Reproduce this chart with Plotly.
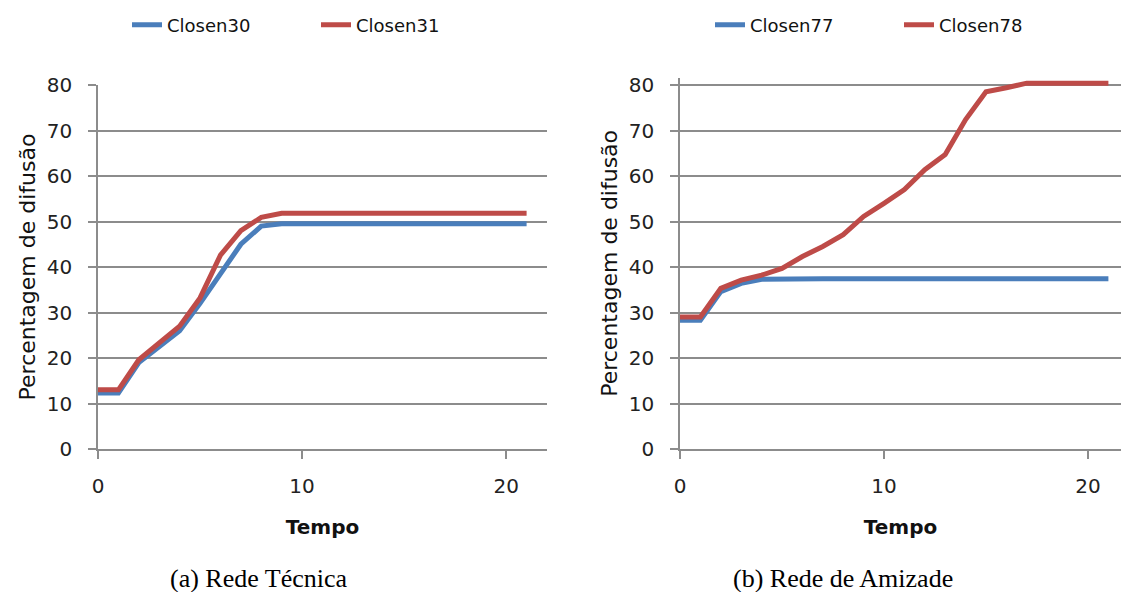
import plotly.graph_objects as go
from plotly.subplots import make_subplots

tempo = list(range(22))
closen30 = [12.3, 12.3, 19.0, 22.5, 26.0, 32.0, 38.5, 45.0, 49.0, 49.5, 49.5, 49.5, 49.5, 49.5, 49.5, 49.5, 49.5, 49.5, 49.5, 49.5, 49.5, 49.5]
closen31 = [13.0, 13.0, 19.6, 23.2, 27.0, 33.2, 42.6, 48.0, 50.9, 51.8, 51.8, 51.8, 51.8, 51.8, 51.8, 51.8, 51.8, 51.8, 51.8, 51.8, 51.8, 51.8]
closen77 = [28.3, 28.3, 34.6, 36.4, 37.3, 37.4, 37.4, 37.4, 37.4, 37.4, 37.4, 37.4, 37.4, 37.4, 37.4, 37.4, 37.4, 37.4, 37.4, 37.4, 37.4, 37.4]
closen78 = [29.0, 29.0, 35.3, 37.1, 38.2, 39.7, 42.3, 44.5, 47.1, 51.1, 54.0, 57.0, 61.4, 64.7, 72.4, 78.5, 79.4, 80.4, 80.4, 80.4, 80.4, 80.4]

x_ticks = [0, 10, 20]
y_ticks = [0, 10, 20, 30, 40, 50, 60, 70, 80]
captions = ["(a) Rede Técnica", "(b) Rede de Amizade"]

BLUE = "#4A7EBB"
RED = "#BE4B48"
GRID = "#8C8C8C"
W, H = 1121, 592

fig = make_subplots(rows=1, cols=2)

fig.add_trace(go.Scatter(x=tempo, y=closen30, name="Closen30", mode="lines",
                         line=dict(color=BLUE, width=5), legend="legend"), 1, 1)
fig.add_trace(go.Scatter(x=tempo, y=closen31, name="Closen31", mode="lines",
                         line=dict(color=RED, width=5), legend="legend"), 1, 1)
fig.add_trace(go.Scatter(x=tempo, y=closen77, name="Closen77", mode="lines",
                         line=dict(color=BLUE, width=5), legend="legend2"), 1, 2)
fig.add_trace(go.Scatter(x=tempo, y=closen78, name="Closen78", mode="lines",
                         line=dict(color=RED, width=5), legend="legend2"), 1, 2)

tickfont = dict(family="DejaVu Sans", size=20, color="#222222")
xtitlefont = dict(family="DejaVu Sans", size=20, color="#111111")
ytitlefont = dict(family="DejaVu Sans", size=22, color="#111111")

def px_x(p):
    return p / W

def px_y(p):
    return (H - p) / H

y0_px, y80_px = 449, 85
unit_y = (y0_px - y80_px) / 80.0

xcommon = dict(showgrid=False, showline=True, linecolor=GRID, linewidth=1.5,
               ticks="outside", ticklen=8, tickcolor=GRID, tickwidth=1.5,
               tickvals=x_ticks, tickfont=tickfont, zeroline=False,
               ticklabelstandoff=10, automargin=False,
               title=dict(text="<b>Tempo</b>", font=xtitlefont, standoff=23))
ycommon = dict(showgrid=True, gridcolor=GRID, gridwidth=1.5, showline=True,
               linecolor=GRID, linewidth=1.5, ticks="outside", ticklen=8,
               tickcolor=GRID, tickwidth=1.5, tickvals=y_ticks, tickfont=tickfont,
               zeroline=False, ticklabelstandoff=12, automargin=False,
               title=dict(text="Percentagem de difusão", font=ytitlefont, standoff=5))

fig.update_xaxes(xcommon)
fig.update_yaxes(ycommon)

fig.update_layout(
    xaxis=dict(domain=[px_x(98), px_x(547)], range=[0, 22]),
    xaxis2=dict(domain=[px_x(680), 1.0], range=[0, (W - 680) / 20.4]),
    yaxis=dict(domain=[px_y(y0_px), px_y(y80_px)], range=[0, 80]),
    yaxis2=dict(domain=[px_y(y0_px), px_y(y80_px - 1.6 * unit_y)], range=[0, 81.6]),
)

legfont = dict(family="DejaVu Sans", size=18, color="#111111")
fig.update_layout(
    width=W, height=H, autosize=False,
    margin=dict(l=0, r=0, t=0, b=0, pad=0, autoexpand=False),
    paper_bgcolor="white", plot_bgcolor="white",
    legend=dict(orientation="h", x=px_x(127), y=px_y(25), xanchor="left", yanchor="middle",
                font=legfont, entrywidth=144, entrywidthmode="pixels",
                bgcolor="rgba(0,0,0,0)", itemwidth=30),
    legend2=dict(orientation="h", x=px_x(710), y=px_y(25), xanchor="left", yanchor="middle",
                 font=legfont, entrywidth=144, entrywidthmode="pixels",
                 bgcolor="rgba(0,0,0,0)", itemwidth=30),
    showlegend=True,
)

fig.add_annotation(text=captions[0], x=px_x(259), y=px_y(578), xref="paper", yref="paper",
                   showarrow=False, xanchor="center", yanchor="middle",
                   font=dict(family="Liberation Serif", size=26, color="black"))
fig.add_annotation(text=captions[1], x=px_x(843), y=px_y(578), xref="paper", yref="paper",
                   showarrow=False, xanchor="center", yanchor="middle",
                   font=dict(family="Liberation Serif", size=26, color="black"))

fig.write_html("out.html", config={"displayModeBar": False},
               post_script="document.body.style.margin='0';document.body.style.overflow='hidden';")
